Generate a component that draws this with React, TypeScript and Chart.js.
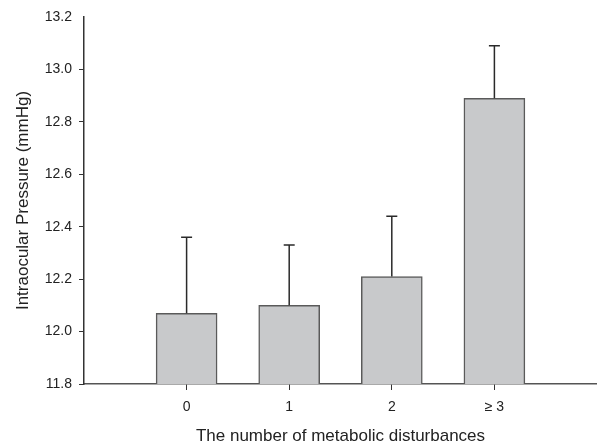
import React, { useEffect, useRef } from "react";
import { Chart, registerables } from "chart.js";

Chart.register(...registerables);

const categories = ["0", "1", "2", "≥ 3"];
const meanValues = [12.07, 12.1, 12.21, 12.89];
const sdValues = [0.29, 0.23, 0.23, 0.2];
const yTicks = [11.8, 12.0, 12.2, 12.4, 12.6, 12.8, 13.0, 13.2];

const errorBarPlugin = {
  id: "errorBars",
  afterDatasetsDraw(chart: any) {
    const { ctx, scales } = chart;
    const xs = scales.x;
    const ys = scales.y;
    ctx.save();
    ctx.strokeStyle = "#2a2a2a";
    ctx.lineWidth = 1.5;
    meanValues.forEach((m, i) => {
      const x = xs.getPixelForValue(i);
      const y0 = ys.getPixelForValue(m);
      const y1 = ys.getPixelForValue(m + sdValues[i]);
      ctx.beginPath();
      ctx.moveTo(x, y0);
      ctx.lineTo(x, y1);
      ctx.moveTo(x - 5.5, y1);
      ctx.lineTo(x + 5.5, y1);
      ctx.stroke();
    });
    ctx.restore();
  },
};

export default function App() {
  const ref = useRef<HTMLCanvasElement>(null);
  useEffect(() => {
    document.body.style.margin = "0";
    const chart = new Chart(ref.current!, {
      type: "bar",
      data: {
        datasets: [
          {
            data: meanValues.map((v, i) => ({ x: i, y: v })),
            backgroundColor: "#c8c9cb",
            borderColor: "#5a5a5a",
            borderWidth: 1.5,
            borderSkipped: "bottom",
            barThickness: 61,
          },
        ],
      },
      options: {
        animation: false,
        responsive: false,
        maintainAspectRatio: false,
        layout: { padding: { top: 17, right: 0, left: 0, bottom: 0 } },
        plugins: { legend: { display: false }, tooltip: { enabled: false } },
        scales: {
          x: {
            type: "linear",
            min: -1,
            max: 4,
            offset: false,
            afterFit: (s: any) => {
              s.height = 60;
              s.paddingRight = 0;
              s.paddingLeft = 0;
            },
            afterBuildTicks: (s: any) => {
              s.ticks = [-1, 0, 1, 2, 3, 4].map((v) => ({ value: v }));
            },
            border: { display: true, color: "#555", width: 1.5 },
            grid: {
              offset: false,
              drawOnChartArea: false,
              drawTicks: true,
              tickLength: 6,
              color: (c: any) =>
                c.tick && c.tick.value >= 0 && c.tick.value < categories.length
                  ? "#333"
                  : "rgba(0,0,0,0)",
            },
            ticks: {
              autoSkip: false,
              maxRotation: 0,
              padding: 9,
              color: "#222",
              font: { family: "Liberation Sans, Arial, sans-serif", size: 14 },
              callback: (v: any) => categories[v] ?? "",
            },
            title: {
              display: true,
              text: "The number of metabolic disturbances",
              color: "#222",
              font: { family: "Liberation Sans, Arial, sans-serif", size: 17 },
              padding: { top: 0, bottom: -3 },
            },
          },
          y: {
            min: 11.8,
            max: 13.2,
            afterFit: (s: any) => {
              s.width = 84;
            },
            afterBuildTicks: (s: any) => {
              s.ticks = yTicks.map((v) => ({ value: v }));
            },
            border: { display: true, color: "#333", width: 1.5 },
            grid: {
              drawOnChartArea: false,
              drawTicks: true,
              tickLength: 5,
              color: (c: any) => (c.tick && c.tick.value === 13.2 ? "rgba(0,0,0,0)" : "#333"),
            },
            ticks: {
              padding: 7,
              color: "#222",
              font: { family: "Liberation Sans, Arial, sans-serif", size: 14 },
              callback: (v: any) => Number(v).toFixed(1),
            },
            title: {
              display: true,
              text: "Intraocular Pressure (mmHg)",
              color: "#222",
              font: { family: "Liberation Sans, Arial, sans-serif", size: 17 },
              padding: { top: 13, bottom: 0 },
            },
          },
        },
      },
      plugins: [errorBarPlugin],
    });
    return () => chart.destroy();
  }, []);
  return (
    <div style={{ width: 597, height: 444 }}>
      <canvas ref={ref} width={597} height={444} style={{ display: "block" }} />
    </div>
  );
}
